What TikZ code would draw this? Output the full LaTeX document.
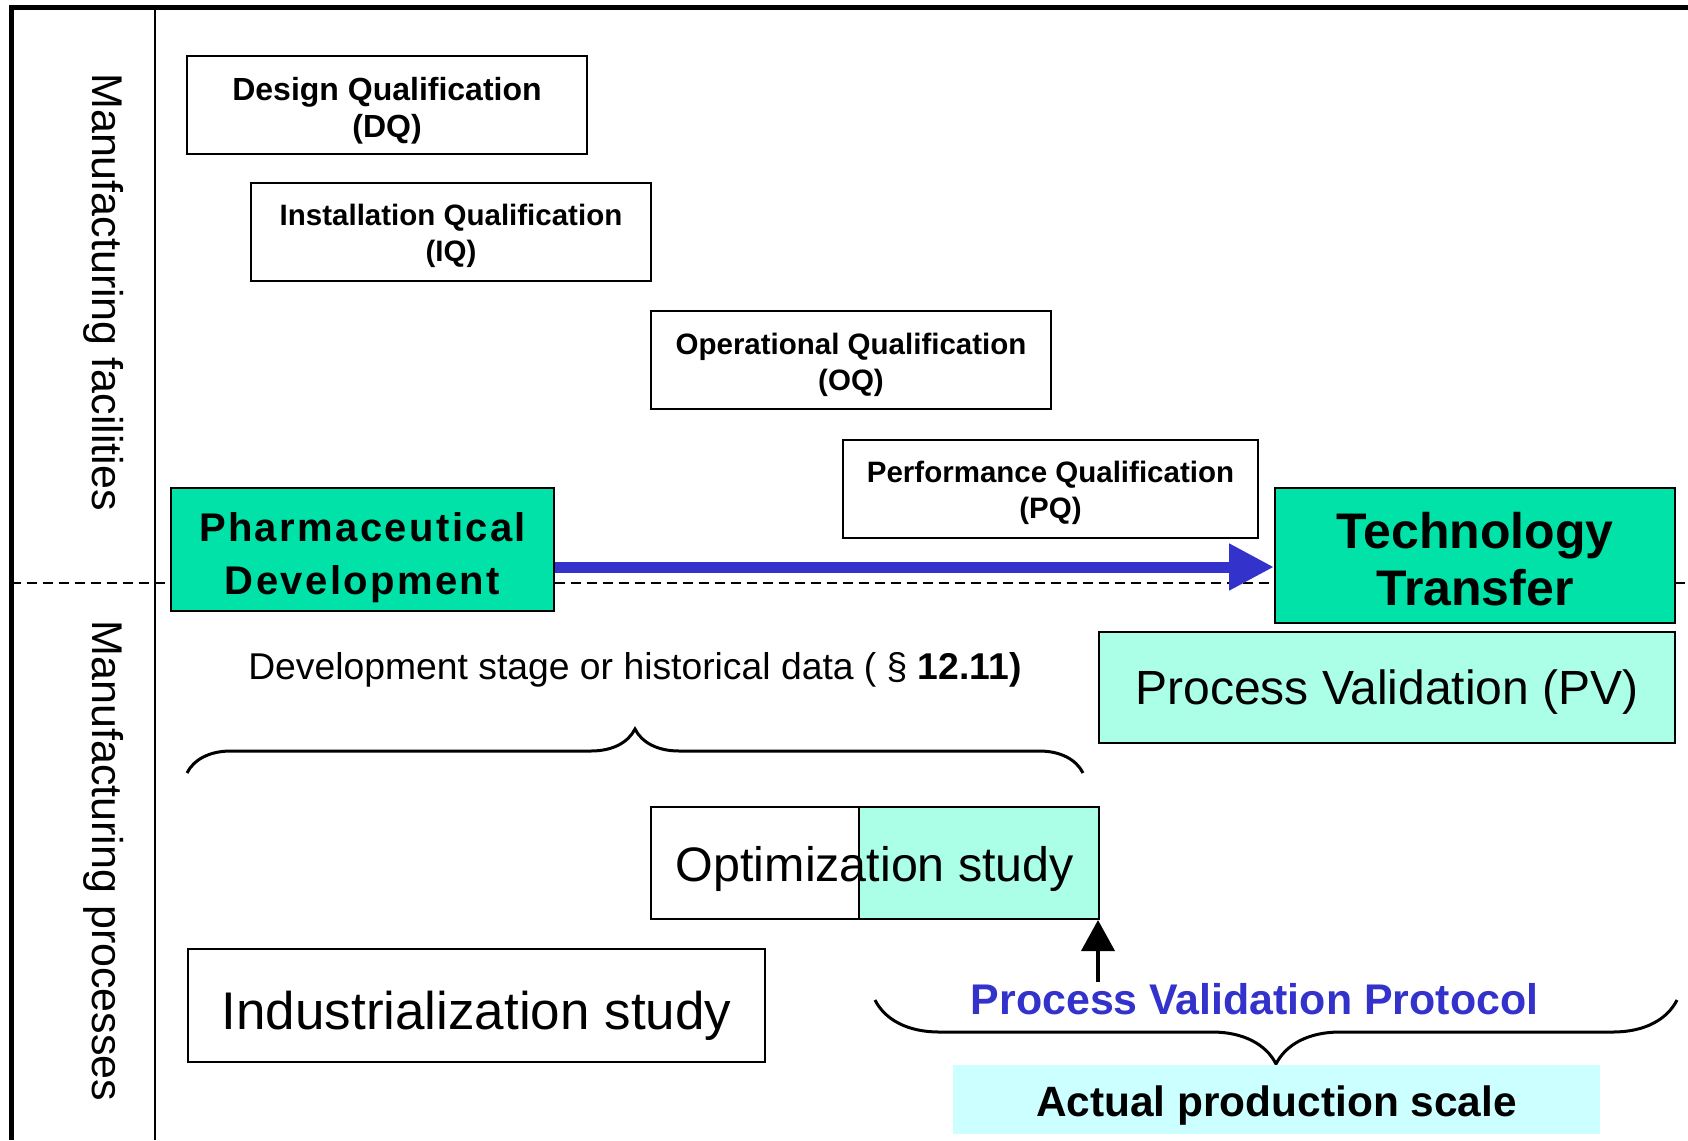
\documentclass[tikz,border=0pt]{standalone}
\usepackage{fontspec}
\setmainfont{Liberation Sans}
\usetikzlibrary{arrows.meta,decorations.pathreplacing}
\definecolor{devgreen}{RGB}{0,226,168}
\definecolor{pvgreen}{RGB}{170,255,230}
\definecolor{scalecyan}{RGB}{204,255,255}
\definecolor{arrowblue}{RGB}{51,51,204}
\newcommand{\lift}[1]{\rule{0pt}{#1}} %1行目の高さ調整
\tikzset{
  qualbox/.style={draw, line width=2pt, fill=white, align=center, inner sep=0pt,
    minimum width=400pt, minimum height=98pt,
    font=\fontsize{29.5}{36}\selectfont\bfseries},
  stagebox/.style={draw, line width=2pt, fill=devgreen, align=center, inner sep=0pt},
  studybox/.style={draw, line width=2pt, align=center, inner sep=0pt, text depth=0pt},
  sidelabel/.style={rotate=-90, font=\fontsize{43}{43}\selectfont},
  curly/.style={line width=3pt, decorate, decoration={brace, amplitude=#1}},
}
\begin{document}
\begin{tikzpicture}[x=1pt, y=-1pt]
\useasboundingbox (0,0) rectangle (1688,1140);

%外枠
\draw[line width=5pt] (11,1140) -- (11,8) -- (1688,8);
\draw[line width=2pt] (155,8) -- (155,1140);
%境界の破線
\draw[line width=2pt, dash pattern=on 10pt off 6pt] (11,583) -- (1688,583);

%左側の見出し
\node[sidelabel] (facil) at (104,292) {Manufacturing facilities};
\node[sidelabel] (procs) at (104,861) {Manufacturing processes};

%適格性評価
\node[qualbox, font=\fontsize{32}{37}\selectfont\bfseries] (dq) at (387,105)
  {\lift{34pt}Design Qualification\\(DQ)};
\node[qualbox] (iq) at (451,231.5) {\lift{31pt}Installation Qualification\\(IQ)};
\node[qualbox] (oq) at (851,360) {\lift{32pt}Operational Qualification\\(OQ)};
\node[qualbox, minimum width=415pt] (pq) at (1050.5,489) {\lift{30pt}Performance Qualification\\(PQ)};

%開発と技術移転
\node[stagebox, minimum width=383pt, minimum height=123pt,
  font=\fontsize{40}{53}\selectfont\bfseries\addfontfeatures{LetterSpace=6}] (pharm) at (362.5,549.5)
  {\lift{46pt}Pharmaceutical\\Development};
\node[stagebox, minimum width=400pt, minimum height=135pt,
  font=\fontsize{50}{57}\selectfont\bfseries] (tech) at (1475,555.5) {\lift{43pt}Technology\\Transfer};
\coordinate (arrowy) at (0,567);
\draw[line width=11pt, arrowblue, -{Triangle[length=45pt,width=44pt]}]
  (pharm.east |- arrowy) -- (tech.west |- arrowy);

%プロセスバリデーション
\node[studybox, fill=pvgreen, minimum width=576pt, minimum height=111pt, text height=33pt,
  font=\fontsize{48}{48}\selectfont] (pv) at (1387,687.5) {Process Validation (PV)};

\node[font=\fontsize{37.3}{37.3}\selectfont] (devdata) at (635,670)
  {Development stage or historical data ( § \textbf{12.11)}};
\draw[curly=44pt] (187,773) -- (1083,773);

%検討
\draw[line width=1.5pt, fill=pvgreen] (859,807) rectangle (1099,919);
\node[studybox, minimum width=448pt, minimum height=112pt, text height=36pt,
  font=\fontsize{48.4}{48.4}\selectfont] (opt) at (875,863) {Optimization study};
\node[studybox, minimum width=577pt, minimum height=113pt, text height=48pt,
  font=\fontsize{53}{53}\selectfont] (ind) at (476.5,1005.5) {Industrialization study};

%実生産スケール
\node[font=\fontsize{42.9}{42.9}\selectfont\bfseries, text=arrowblue] (pvp) at (1254.5,999)
  {Process Validation Protocol};
\coordinate (pvptop) at (1098,982);
\draw[line width=4pt, -{Triangle[length=31pt,width=33pt]}] (pvptop) -- (pvptop |- opt.south);
\draw[curly=64pt, decoration={mirror}] (875,1000) -- (1677,1000);
\node[fill=scalecyan, minimum width=647pt, minimum height=69pt, inner sep=0pt,
  text height=34pt, text depth=0pt,
  font=\fontsize{42.4}{42.4}\selectfont\bfseries] (aps) at (1276.5,1099.5) {Actual production scale};
\end{tikzpicture}
\end{document}
